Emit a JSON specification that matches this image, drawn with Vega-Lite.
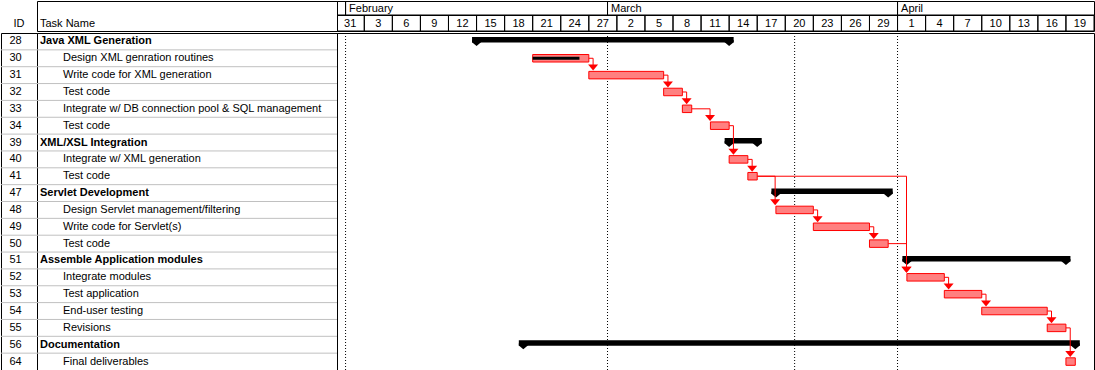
{
  "$schema": "https://vega.github.io/schema/vega-lite/v6.json",
  "padding": 0,
  "background": "white",
  "spacing": 0,
  "config": {
    "view": {"stroke": "black", "strokeWidth": 1},
    "font": "Liberation Sans",
    "text": {"fontSize": 11, "color": "black"},
    "concat": {"spacing": 0}
  },
  "datasets": {
    "tasks": [
      {"id": 28, "name": "Java XML Generation", "level": 0, "start": "2003-02-15T00:00:00", "end": "2003-03-14T00:00:00"},
      {"id": 30, "name": "Design XML genration routines", "level": 1, "start": "2003-02-21T00:00:00", "end": "2003-02-27T00:00:00", "done": "2003-02-26T00:00:00"},
      {"id": 31, "name": "Write code for XML generation", "level": 1, "start": "2003-02-27T00:00:00", "end": "2003-03-07T00:00:00"},
      {"id": 32, "name": "Test code", "level": 1, "start": "2003-03-07T00:00:00", "end": "2003-03-09T00:00:00"},
      {"id": 33, "name": "Integrate w/ DB connection pool & SQL management", "level": 1, "start": "2003-03-09T00:00:00", "end": "2003-03-10T00:00:00"},
      {"id": 34, "name": "Test code", "level": 1, "start": "2003-03-12T00:00:00", "end": "2003-03-14T00:00:00"},
      {"id": 39, "name": "XML/XSL Integration", "level": 0, "start": "2003-03-14T00:00:00", "end": "2003-03-17T00:00:00"},
      {"id": 40, "name": "Integrate w/ XML generation", "level": 1, "start": "2003-03-14T00:00:00", "end": "2003-03-16T00:00:00"},
      {"id": 41, "name": "Test code", "level": 1, "start": "2003-03-16T00:00:00", "end": "2003-03-17T00:00:00"},
      {"id": 47, "name": "Servlet Development", "level": 0, "start": "2003-03-19T00:00:00", "end": "2003-03-31T00:00:00"},
      {"id": 48, "name": "Design Servlet management/filtering", "level": 1, "start": "2003-03-19T00:00:00", "end": "2003-03-23T00:00:00"},
      {"id": 49, "name": "Write code for Servlet(s)", "level": 1, "start": "2003-03-23T00:00:00", "end": "2003-03-29T00:00:00"},
      {"id": 50, "name": "Test code", "level": 1, "start": "2003-03-29T00:00:00", "end": "2003-03-31T00:00:00"},
      {"id": 51, "name": "Assemble Application modules", "level": 0, "start": "2003-04-02T00:00:00", "end": "2003-04-19T00:00:00"},
      {"id": 52, "name": "Integrate modules", "level": 1, "start": "2003-04-02T00:00:00", "end": "2003-04-06T00:00:00"},
      {"id": 53, "name": "Test application", "level": 1, "start": "2003-04-06T00:00:00", "end": "2003-04-10T00:00:00"},
      {"id": 54, "name": "End-user testing", "level": 1, "start": "2003-04-10T00:00:00", "end": "2003-04-17T00:00:00"},
      {"id": 55, "name": "Revisions", "level": 1, "start": "2003-04-17T00:00:00", "end": "2003-04-19T00:00:00"},
      {"id": 56, "name": "Documentation", "level": 0, "start": "2003-02-20T00:00:00", "end": "2003-04-20T00:00:00"},
      {"id": 64, "name": "Final deliverables", "level": 1, "start": "2003-04-19T00:00:00", "end": "2003-04-20T00:00:00"}
    ],
    "links": [
      {"from": 30, "to": 31, "predEnd": "2003-02-27T00:00:00", "turn": "2003-02-27T11:00:00"},
      {"from": 31, "to": 32, "predEnd": "2003-03-07T00:00:00", "turn": "2003-03-07T11:00:00"},
      {"from": 32, "to": 33, "predEnd": "2003-03-09T00:00:00", "turn": "2003-03-09T11:00:00"},
      {"from": 33, "to": 34, "predEnd": "2003-03-10T00:00:00", "turn": "2003-03-11T23:00:00"},
      {"from": 34, "to": 40, "predEnd": "2003-03-14T00:00:00", "turn": "2003-03-14T11:00:00"},
      {"from": 40, "to": 41, "predEnd": "2003-03-16T00:00:00", "turn": "2003-03-16T11:00:00"},
      {"from": 41, "to": 48, "predEnd": "2003-03-17T00:00:00", "turn": "2003-03-18T22:00:00"},
      {"from": 48, "to": 49, "predEnd": "2003-03-23T00:00:00", "turn": "2003-03-23T11:00:00"},
      {"from": 49, "to": 50, "predEnd": "2003-03-29T00:00:00", "turn": "2003-03-29T11:00:00"},
      {"from": 41, "to": 52, "predEnd": "2003-03-17T00:00:00", "turn": "2003-04-01T23:00:00"},
      {"from": 50, "to": 52, "predEnd": "2003-03-31T00:00:00", "turn": "2003-04-01T23:00:00"},
      {"from": 52, "to": 53, "predEnd": "2003-04-06T00:00:00", "turn": "2003-04-06T11:00:00"},
      {"from": 53, "to": 54, "predEnd": "2003-04-10T00:00:00", "turn": "2003-04-10T11:00:00"},
      {"from": 54, "to": 55, "predEnd": "2003-04-17T00:00:00", "turn": "2003-04-17T11:00:00"},
      {"from": 55, "to": 64, "predEnd": "2003-04-19T00:00:00", "turn": "2003-04-19T11:00:00"}
    ],
    "months": [
      {"month": "January", "start": "2003-01-01T00:00:00", "end": "2003-02-01T00:00:00"},
      {"month": "February", "start": "2003-02-01T00:00:00", "end": "2003-03-01T00:00:00"},
      {"month": "March", "start": "2003-03-01T00:00:00", "end": "2003-04-01T00:00:00"},
      {"month": "April", "start": "2003-04-01T00:00:00", "end": "2003-05-01T00:00:00"}
    ],
    "days": [
      {"label": "31", "start": "2003-01-31T00:00:00", "end": "2003-02-03T00:00:00"},
      {"label": "3", "start": "2003-02-03T00:00:00", "end": "2003-02-06T00:00:00"},
      {"label": "6", "start": "2003-02-06T00:00:00", "end": "2003-02-09T00:00:00"},
      {"label": "9", "start": "2003-02-09T00:00:00", "end": "2003-02-12T00:00:00"},
      {"label": "12", "start": "2003-02-12T00:00:00", "end": "2003-02-15T00:00:00"},
      {"label": "15", "start": "2003-02-15T00:00:00", "end": "2003-02-18T00:00:00"},
      {"label": "18", "start": "2003-02-18T00:00:00", "end": "2003-02-21T00:00:00"},
      {"label": "21", "start": "2003-02-21T00:00:00", "end": "2003-02-24T00:00:00"},
      {"label": "24", "start": "2003-02-24T00:00:00", "end": "2003-02-27T00:00:00"},
      {"label": "27", "start": "2003-02-27T00:00:00", "end": "2003-03-02T00:00:00"},
      {"label": "2", "start": "2003-03-02T00:00:00", "end": "2003-03-05T00:00:00"},
      {"label": "5", "start": "2003-03-05T00:00:00", "end": "2003-03-08T00:00:00"},
      {"label": "8", "start": "2003-03-08T00:00:00", "end": "2003-03-11T00:00:00"},
      {"label": "11", "start": "2003-03-11T00:00:00", "end": "2003-03-14T00:00:00"},
      {"label": "14", "start": "2003-03-14T00:00:00", "end": "2003-03-17T00:00:00"},
      {"label": "17", "start": "2003-03-17T00:00:00", "end": "2003-03-20T00:00:00"},
      {"label": "20", "start": "2003-03-20T00:00:00", "end": "2003-03-23T00:00:00"},
      {"label": "23", "start": "2003-03-23T00:00:00", "end": "2003-03-26T00:00:00"},
      {"label": "26", "start": "2003-03-26T00:00:00", "end": "2003-03-29T00:00:00"},
      {"label": "29", "start": "2003-03-29T00:00:00", "end": "2003-04-01T00:00:00"},
      {"label": "1", "start": "2003-04-01T00:00:00", "end": "2003-04-04T00:00:00"},
      {"label": "4", "start": "2003-04-04T00:00:00", "end": "2003-04-07T00:00:00"},
      {"label": "7", "start": "2003-04-07T00:00:00", "end": "2003-04-10T00:00:00"},
      {"label": "10", "start": "2003-04-10T00:00:00", "end": "2003-04-13T00:00:00"},
      {"label": "13", "start": "2003-04-13T00:00:00", "end": "2003-04-16T00:00:00"},
      {"label": "16", "start": "2003-04-16T00:00:00", "end": "2003-04-19T00:00:00"},
      {"label": "19", "start": "2003-04-19T00:00:00", "end": "2003-04-22T00:00:00"}
    ],
    "dotted": [
      {"date": "2003-02-01T00:00:00"},
      {"date": "2003-03-01T00:00:00"},
      {"date": "2003-03-21T00:00:00"},
      {"date": "2003-04-01T00:00:00"}
    ]
  },
  "vconcat": [
    {
      "spacing": 0,
      "bounds": "flush",
      "hconcat": [
        {
          "width": 36, "height": 30,
          "data": {"values": [{"t": "ID"}]},
          "mark": {"type": "text", "baseline": "middle", "dy": 8.3},
          "encoding": {"text": {"field": "t"}}
        },
        {
          "width": 300, "height": 30,
          "data": {"values": [{"t": "Task Name", "level": 0}]},
          "mark": {"type": "text", "align": "left", "baseline": "middle", "dy": 8.3},
          "encoding": {
            "x": {"field": "level", "type": "quantitative", "scale": {"domain": [0, 1], "range": [3, 26]}, "axis": null},
            "text": {"field": "t"}
          }
        },
        {
          "spacing": 0,
          "bounds": "flush",
          "vconcat": [
            {
              "width": 757, "height": 14,
              "data": {"name": "months"},
              "layer": [
                {
                  "mark": {"type": "rect", "fill": "transparent", "stroke": "black", "strokeWidth": 1, "clip": true},
                  "encoding": {
                    "x": {"field": "start", "type": "temporal", "scale": {"domain": [{"year": 2003, "month": 1, "date": 31, "hours": 2}, {"year": 2003, "month": 4, "date": 22}]}, "axis": null},
                    "x2": {"field": "end"}
                  }
                },
                {
                  "mark": {"type": "text", "align": "left", "baseline": "middle", "dx": 3.5, "dy": 1, "clip": true},
                  "encoding": {
                    "x": {"field": "start", "type": "temporal", "scale": {"domain": [{"year": 2003, "month": 1, "date": 31, "hours": 2}, {"year": 2003, "month": 4, "date": 22}]}, "axis": null},
                    "text": {"field": "month"}
                  }
                }
              ]
            },
            {
              "width": 757, "height": 16,
              "data": {"name": "days"},
              "layer": [
                {
                  "mark": {"type": "rect", "fill": "transparent", "stroke": "black", "strokeWidth": 1, "clip": true},
                  "encoding": {
                    "x": {"field": "start", "type": "temporal", "scale": {"domain": [{"year": 2003, "month": 1, "date": 31, "hours": 2}, {"year": 2003, "month": 4, "date": 22}]}, "axis": null},
                    "x2": {"field": "end"}
                  }
                },
                {
                  "mark": {"type": "text", "align": "center", "baseline": "middle", "dx": 14, "dy": 0.5, "clip": true},
                  "encoding": {
                    "x": {"field": "start", "type": "temporal", "scale": {"domain": [{"year": 2003, "month": 1, "date": 31, "hours": 2}, {"year": 2003, "month": 4, "date": 22}]}, "axis": null},
                    "text": {"field": "label"}
                  }
                }
              ]
            }
          ]
        }
      ]
    },
    {
      "spacing": 0,
      "bounds": "flush",
      "hconcat": [
        {
          "width": 36, "height": 337,
          "data": {"name": "tasks"},
          "layer": [
            {
              "transform": [{"filter": "datum.id != 64"}],
              "mark": {"type": "rule", "color": "#c0c0c0"},
              "encoding": {"y": {"field": "id", "type": "ordinal", "bandPosition": 1, "scale": {"type": "band", "domain": [28,30,31,32,33,34,39,40,41,47,48,49,50,51,52,53,54,55,56,64], "paddingInner": 0, "paddingOuter": 0}, "axis": null}}
            },
            {
              "mark": {"type": "text", "baseline": "middle", "dx": -3.5},
              "encoding": {
                "y": {"field": "id", "type": "ordinal", "scale": {"type": "band", "domain": [28,30,31,32,33,34,39,40,41,47,48,49,50,51,52,53,54,55,56,64], "paddingInner": 0, "paddingOuter": 0}, "axis": null},
                "text": {"field": "id"}
              }
            }
          ]
        },
        {
          "width": 300, "height": 337,
          "data": {"name": "tasks"},
          "layer": [
            {
              "transform": [{"filter": "datum.id != 64"}],
              "mark": {"type": "rule", "color": "#c0c0c0"},
              "encoding": {"y": {"field": "id", "type": "ordinal", "bandPosition": 1, "scale": {"type": "band", "domain": [28,30,31,32,33,34,39,40,41,47,48,49,50,51,52,53,54,55,56,64], "paddingInner": 0, "paddingOuter": 0}, "axis": null}}
            },
            {
              "transform": [{"filter": "datum.level == 0"}],
              "mark": {"type": "text", "align": "left", "baseline": "middle", "fontWeight": "bold"},
              "encoding": {
                "x": {"field": "level", "type": "quantitative", "scale": {"domain": [0, 1], "range": [3, 26]}, "axis": null},
                "y": {"field": "id", "type": "ordinal", "scale": {"type": "band", "domain": [28,30,31,32,33,34,39,40,41,47,48,49,50,51,52,53,54,55,56,64], "paddingInner": 0, "paddingOuter": 0}, "axis": null},
                "text": {"field": "name"}
              }
            },
            {
              "transform": [{"filter": "datum.level == 1"}],
              "mark": {"type": "text", "align": "left", "baseline": "middle"},
              "encoding": {
                "x": {"field": "level", "type": "quantitative", "scale": {"domain": [0, 1], "range": [3, 26]}, "axis": null},
                "y": {"field": "id", "type": "ordinal", "scale": {"type": "band", "domain": [28,30,31,32,33,34,39,40,41,47,48,49,50,51,52,53,54,55,56,64], "paddingInner": 0, "paddingOuter": 0}, "axis": null},
                "text": {"field": "name"}
              }
            }
          ]
        },
        {
          "width": 757, "height": 337,
          "layer": [
            {
              "data": {"name": "dotted"},
              "mark": {"type": "rule", "color": "black", "strokeDash": [1, 2]},
              "encoding": {
                "x": {"field": "date", "type": "temporal", "scale": {"domain": [{"year": 2003, "month": 1, "date": 31, "hours": 2}, {"year": 2003, "month": 4, "date": 22}]}, "axis": null}
              }
            },
            {
              "data": {"name": "tasks"},
              "transform": [{"filter": "datum.level == 0"}],
              "mark": {"type": "bar", "color": "black", "height": 5.5, "yOffset": -1.8, "xOffset": -4.5, "x2Offset": 4.5},
              "encoding": {
                "x": {"field": "start", "type": "temporal", "scale": {"domain": [{"year": 2003, "month": 1, "date": 31, "hours": 2}, {"year": 2003, "month": 4, "date": 22}]}, "axis": null},
                "x2": {"field": "end"},
                "y": {"field": "id", "type": "ordinal", "scale": {"type": "band", "domain": [28,30,31,32,33,34,39,40,41,47,48,49,50,51,52,53,54,55,56,64], "paddingInner": 0, "paddingOuter": 0}, "axis": null}
              }
            },
            {
              "data": {"name": "tasks"},
              "transform": [{"filter": "datum.level == 0"}],
              "mark": {"type": "point", "shape": "M-1,-0.5L1,-0.5L1,0L0,0.85L-1,0Z", "size": 81, "filled": true, "color": "black", "opacity": 1, "yOffset": 0.7},
              "encoding": {
                "x": {"field": "start", "type": "temporal", "scale": {"domain": [{"year": 2003, "month": 1, "date": 31, "hours": 2}, {"year": 2003, "month": 4, "date": 22}]}, "axis": null},
                "y": {"field": "id", "type": "ordinal", "scale": {"type": "band", "domain": [28,30,31,32,33,34,39,40,41,47,48,49,50,51,52,53,54,55,56,64], "paddingInner": 0, "paddingOuter": 0}, "axis": null}
              }
            },
            {
              "data": {"name": "tasks"},
              "transform": [{"filter": "datum.level == 0"}],
              "mark": {"type": "point", "shape": "M-1,-0.5L1,-0.5L1,0L0,0.85L-1,0Z", "size": 81, "filled": true, "color": "black", "opacity": 1, "yOffset": 0.7},
              "encoding": {
                "x": {"field": "end", "type": "temporal", "scale": {"domain": [{"year": 2003, "month": 1, "date": 31, "hours": 2}, {"year": 2003, "month": 4, "date": 22}]}, "axis": null},
                "y": {"field": "id", "type": "ordinal", "scale": {"type": "band", "domain": [28,30,31,32,33,34,39,40,41,47,48,49,50,51,52,53,54,55,56,64], "paddingInner": 0, "paddingOuter": 0}, "axis": null}
              }
            },
            {
              "data": {"name": "links"},
              "mark": {"type": "rule", "color": "#ff0000", "strokeWidth": 1},
              "encoding": {
                "x": {"field": "predEnd", "type": "temporal", "scale": {"domain": [{"year": 2003, "month": 1, "date": 31, "hours": 2}, {"year": 2003, "month": 4, "date": 22}]}, "axis": null},
                "x2": {"field": "turn"},
                "y": {"field": "from", "type": "ordinal", "scale": {"type": "band", "domain": [28,30,31,32,33,34,39,40,41,47,48,49,50,51,52,53,54,55,56,64], "paddingInner": 0, "paddingOuter": 0}, "axis": null}
              }
            },
            {
              "data": {"name": "links"},
              "mark": {"type": "rule", "color": "#ff0000", "strokeWidth": 1, "y2Offset": -7.6},
              "encoding": {
                "x": {"field": "turn", "type": "temporal", "scale": {"domain": [{"year": 2003, "month": 1, "date": 31, "hours": 2}, {"year": 2003, "month": 4, "date": 22}]}, "axis": null},
                "y": {"field": "from", "type": "ordinal", "scale": {"type": "band", "domain": [28,30,31,32,33,34,39,40,41,47,48,49,50,51,52,53,54,55,56,64], "paddingInner": 0, "paddingOuter": 0}, "axis": null},
                "y2": {"field": "to"}
              }
            },
            {
              "data": {"name": "tasks"},
              "transform": [{"filter": "datum.level == 1"}],
              "mark": {"type": "bar", "fill": "#ff8080", "stroke": "#ff0000", "strokeWidth": 1, "height": 7.5},
              "encoding": {
                "x": {"field": "start", "type": "temporal", "scale": {"domain": [{"year": 2003, "month": 1, "date": 31, "hours": 2}, {"year": 2003, "month": 4, "date": 22}]}, "axis": null},
                "x2": {"field": "end"},
                "y": {"field": "id", "type": "ordinal", "scale": {"type": "band", "domain": [28,30,31,32,33,34,39,40,41,47,48,49,50,51,52,53,54,55,56,64], "paddingInner": 0, "paddingOuter": 0}, "axis": null}
              }
            },
            {
              "data": {"name": "tasks"},
              "transform": [{"filter": "isValid(datum.done)"}],
              "mark": {"type": "bar", "color": "black", "height": 3},
              "encoding": {
                "x": {"field": "start", "type": "temporal", "scale": {"domain": [{"year": 2003, "month": 1, "date": 31, "hours": 2}, {"year": 2003, "month": 4, "date": 22}]}, "axis": null},
                "x2": {"field": "done"},
                "y": {"field": "id", "type": "ordinal", "scale": {"type": "band", "domain": [28,30,31,32,33,34,39,40,41,47,48,49,50,51,52,53,54,55,56,64], "paddingInner": 0, "paddingOuter": 0}, "axis": null}
              }
            },
            {
              "data": {"name": "links"},
              "mark": {"type": "point", "shape": "M-1,-0.6L1,-0.6L0,0.6Z", "size": 100, "filled": true, "color": "#ff0000", "opacity": 1, "yOffset": -7.6},
              "encoding": {
                "x": {"field": "turn", "type": "temporal", "scale": {"domain": [{"year": 2003, "month": 1, "date": 31, "hours": 2}, {"year": 2003, "month": 4, "date": 22}]}, "axis": null},
                "y": {"field": "to", "type": "ordinal", "scale": {"type": "band", "domain": [28,30,31,32,33,34,39,40,41,47,48,49,50,51,52,53,54,55,56,64], "paddingInner": 0, "paddingOuter": 0}, "axis": null}
              }
            }
          ]
        }
      ]
    }
  ]
}
